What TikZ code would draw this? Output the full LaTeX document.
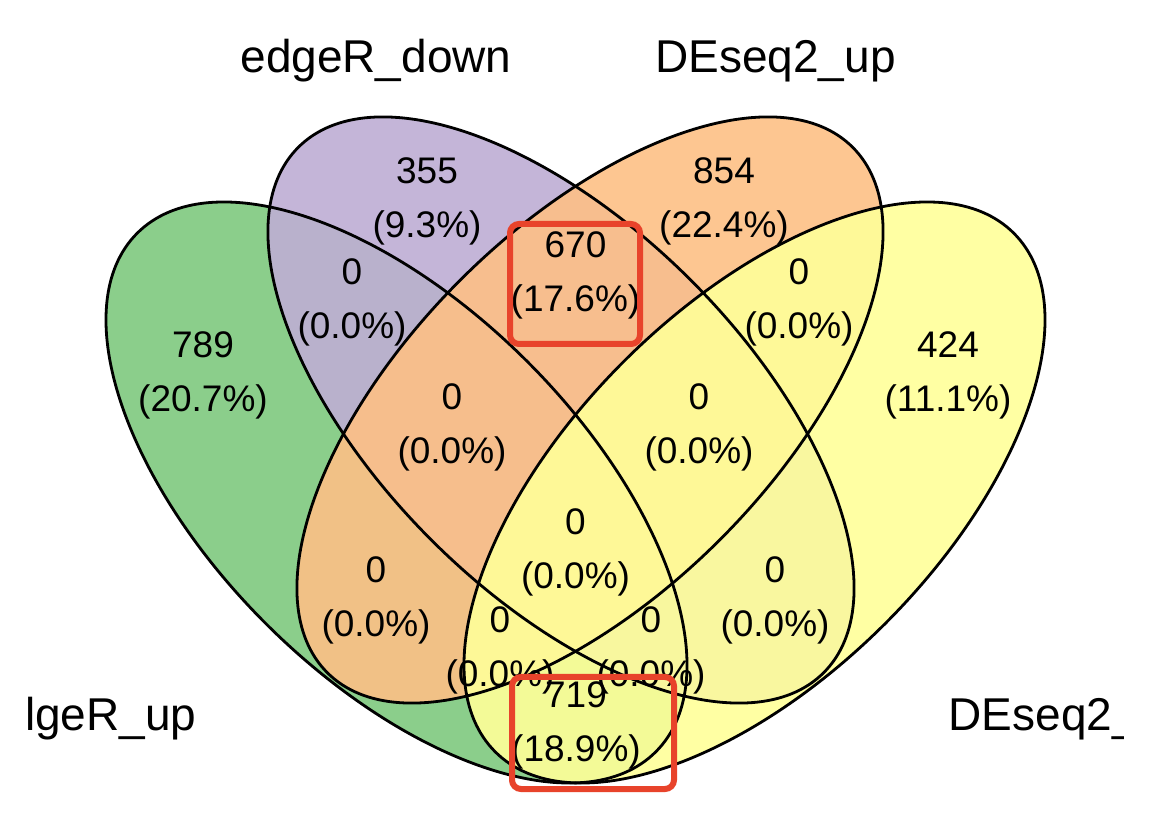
\documentclass[tikz,border=0pt]{standalone}
\usepackage{fontspec}
\setmainfont{Liberation Sans}
\definecolor{cgreen}{HTML}{7FC97F}
\definecolor{cpurple}{HTML}{BEAED4}
\definecolor{corange}{HTML}{FDC086}
\definecolor{cyellow}{HTML}{FFFF99}
\definecolor{cred}{HTML}{E8432B}
\begin{document}
\begin{tikzpicture}[x=1pt,y=1pt,
  setfill/.style={fill opacity=0.9},
  outline/.style={draw=black,line width=2.8pt},
  num/.style={font=\fontsize{37}{44}\selectfont,anchor=base,inner sep=0pt},
  lab/.style={font=\fontsize{46}{55}\selectfont,inner sep=0pt},
  redbox/.style={draw=cred,line width=6pt,rounded corners=9pt,inner sep=0pt}]
\useasboundingbox (0,0) rectangle (1168,812);
\fill[white] (0,0) rectangle (1168,812);
% ellipse centres
\coordinate (cG) at (396.5,319.5);
\coordinate (cP) at (561,402);
\coordinate (cO) at (590,402);
\coordinate (cY) at (754.5,319.5);
% fills
\fill[cgreen,setfill] (cG) ellipse [x radius=366.7pt, y radius=185.1pt, rotate=-45];
\fill[cpurple,setfill] (cP) ellipse [x radius=371.5pt, y radius=183.6pt, rotate=-45];
\fill[corange,setfill] (cO) ellipse [x radius=371.5pt, y radius=183.6pt, rotate=45];
\fill[cyellow,setfill] (cY) ellipse [x radius=366.7pt, y radius=185.1pt, rotate=45];
% outlines
\draw[outline] (cG) ellipse [x radius=366.7pt, y radius=185.1pt, rotate=-45];
\draw[outline] (cP) ellipse [x radius=371.5pt, y radius=183.6pt, rotate=-45];
\draw[outline] (cO) ellipse [x radius=371.5pt, y radius=183.6pt, rotate=45];
\draw[outline] (cY) ellipse [x radius=366.7pt, y radius=185.1pt, rotate=45];
% region counts
\foreach \n/\x/\y/\a/\p in {
  a/203/358/789/20.7,
  b/427/184/355/9.3,
  c/724/184/854/22.4,
  d/948/358/424/11.1,
  e/575.5/258/670/17.6,
  f/352/285/0/0.0,
  g/799/285/0/0.0,
  h/452/410/0/0.0,
  i/699/410/0/0.0,
  j/575.5/535/0/0.0,
  k/376/583/0/0.0,
  l/775/583/0/0.0,
  m/500/633/0/0.0,
  o/651/633/0/0.0,
  q/576/707/719/18.9}{
  \node[num] (n\n) at (\x,812-\y) {\a};
  \node[num] (p\n) at (\x,812-\y-54) {(\p\%)};
}
% set labels
\node[lab,anchor=base] (l2) at (376,739) {edgeR\_down};
\node[lab,anchor=base] (l3) at (775.5,739) {DEseq2\_up};
\node[lab,anchor=base west] (l1) at (25,82) {lgeR\_up};
\begin{scope}
\clip (0,0) rectangle (1123,812);
\node[lab,anchor=base west] (l4) at (948.5,82) {DEseq2\_};
\end{scope}
% highlight boxes
\node[redbox,minimum width=130pt,minimum height=120pt] (box1) at (575,528) {};
\node[redbox,minimum width=162pt,minimum height=112pt] (box2) at (593,79) {};
\end{tikzpicture}
\end{document}
